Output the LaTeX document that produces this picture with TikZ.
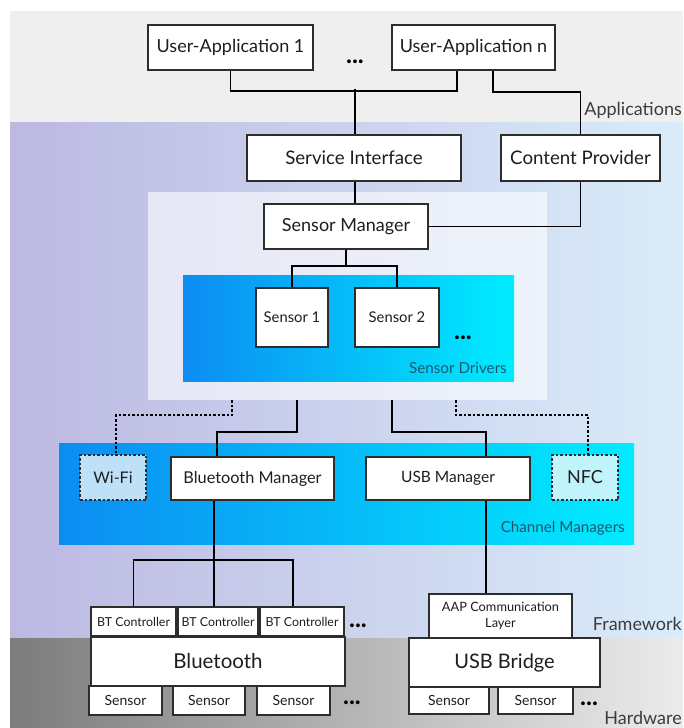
\documentclass[tikz,border=0pt]{standalone}
\usepackage{fontspec}
\setmainfont{Lato}
\usetikzlibrary{calc}
\definecolor{appbg}{RGB}{239,239,239}
\definecolor{fwL}{RGB}{188,184,226}
\definecolor{fwR}{RGB}{218,236,249}
\definecolor{hwL}{RGB}{124,124,124}
\definecolor{hwR}{RGB}{236,236,236}
\definecolor{bluL}{RGB}{12,140,242}
\definecolor{bluR}{RGB}{0,236,255}
\definecolor{boxline}{RGB}{45,45,45}
\definecolor{txt}{RGB}{30,30,30}
\definecolor{lbl}{RGB}{60,60,60}
\definecolor{panlbl}{RGB}{30,85,110}
\definecolor{wifif}{RGB}{190,225,248}
\definecolor{nfcf}{RGB}{192,244,250}
\newcommand\fsz[1]{\fontsize{#1}{#1}\selectfont}
\begin{document}
\begin{tikzpicture}[x=1pt,y=-1pt,
  box/.style={draw=boxline, fill=white, line width=1.3pt, inner sep=0pt, align=center, text=txt},
  dbox/.style={box, dash pattern=on 2.5pt off 2pt},
  conn/.style={draw=black, line width=1.9pt},
  dconn/.style={draw=black, line width=1.9pt, dash pattern=on 2.5pt off 2pt},
  dots/.style={font=\fsz{25}\bfseries, text=black, inner sep=0pt},
  layerlbl/.style={anchor=east, inner sep=0pt, text=lbl, font=\fsz{18}},
  panlabel/.style={anchor=east, inner sep=0pt, text=panlbl, font=\fsz{15.2}}
]
\useasboundingbox (0,0) rectangle (683,728);
% background bands
\fill[white] (0,0) rectangle (683,728);
\fill[appbg] (10,11) rectangle (683,122);
\shade[left color=fwL, right color=fwR] (10,122) rectangle (683,638);
\shade[left color=hwL, right color=hwR] (10,638) rectangle (683,728);

% layer labels
\node[layerlbl] (lapp) at (682,110) {Applications};
\node[layerlbl] (lfw) at (682,624) {Framework};
\node[layerlbl] (lhw) at (682,718) {Hardware};

% panels
\node[fill=white, fill opacity=0.6, minimum width=399, minimum height=208, inner sep=0pt] (lp) at (347.5,296) {};
\shade[left color=bluL, right color=bluR] (183,275) rectangle (514,381);
\node[panlabel] (lsd) at (507,368) {Sensor Drivers};
\shade[left color=bluL, right color=bluR] (59,443) rectangle (634,544);
\node[panlabel] (lcm) at (625,528) {Channel Managers};

% application boxes
\node[box, font=\fsz{18}, minimum width=165, minimum height=45] (ua1) at (230.5,47.5) {User-Application 1};
\node[box, font=\fsz{18}, minimum width=163, minimum height=45] (uan) at (473.5,47.5) {User-Application n};
\node[dots] (d0) at (355,62) {...};

\node[box, font=\fsz{18.7}, minimum width=214, minimum height=46] (si) at (354,158) {Service Interface};
\node[box, font=\fsz{18.7}, minimum width=159, minimum height=46] (cp) at (580.5,158) {Content Provider};
\node[box, font=\fsz{18}, minimum width=164, minimum height=45] (sm) at (346,226.5) {Sensor Manager};

\node[box, font=\fsz{14.8}, minimum width=72, minimum height=59] (s1) at (292,317.5) {Sensor 1};
\node[box, font=\fsz{14.8}, minimum width=84, minimum height=59] (s2) at (397,317.5) {Sensor 2};
\node[dots] (d1) at (463,338) {...};

% channel managers
\node[dbox, font=\fsz{16}, fill=wifif, minimum width=66, minimum height=45] (wifi) at (113,477.5) {Wi-Fi};
\node[box, font=\fsz{16.3}, minimum width=163, minimum height=43] (btm) at (252.5,478.5) {Bluetooth Manager};
\node[box, font=\fsz{15.5}, minimum width=164, minimum height=43] (usbm) at (448,478.5) {USB Manager};
\node[dbox, font=\fsz{18}, fill=nfcf, minimum width=66, minimum height=45] (nfc) at (585,477.5) {NFC};

% bluetooth stack
\node[box, font=\fsz{12.4}, minimum width=85, minimum height=29] (btc1) at (133.5,621.5) {BT Controller};
\node[box, font=\fsz{12.4}, minimum width=80, minimum height=29] (btc2) at (218,621.5) {BT Controller};
\node[box, font=\fsz{12.4}, minimum width=84, minimum height=29] (btc3) at (302,621.5) {BT Controller};
\node[dots] (d2) at (358,626) {...};
\node[box, font=\fsz{20.5}, minimum width=254, minimum height=49] (bt) at (218,661.5) {Bluetooth};
\node[box, font=\fsz{14}, minimum width=73, minimum height=29] (bs1) at (125.5,700.5) {Sensor};
\node[box, font=\fsz{14}, minimum width=72, minimum height=29] (bs2) at (209,700.5) {Sensor};
\node[box, font=\fsz{14}, minimum width=73, minimum height=29] (bs3) at (293.5,700.5) {Sensor};
\node[dots] (d3) at (352,703) {...};

% usb stack
\node[box, font=\fsz{12.8}, minimum width=143, minimum height=44] (aap) at (500.5,616) {AAP Communication\\[3pt]Layer};
\node[box, font=\fsz{20}, minimum width=191, minimum height=49] (usbb) at (504.5,662.5) {USB Bridge};
\node[box, font=\fsz{14}, minimum width=80, minimum height=27] (us1) at (449,700.5) {Sensor};
\node[box, font=\fsz{14}, minimum width=75, minimum height=27] (us2) at (535.5,700.5) {Sensor};
\node[dots] (d4) at (589,704) {...};

% connectors
\draw[conn] (ua1.south) -- ++(0,20) -| ([xshift=-16.5pt]uan.south);
\draw[conn] ([xshift=1pt]si.north) -- ++(0,-45);
\draw[conn] ([xshift=19.5pt]uan.south) -- ++(0,21) -| (cp.north);
\draw[conn] (cp.south) |- (sm.east);
\draw[conn] ([xshift=1pt]si.south) -- ([xshift=9pt]sm.north);
\draw[conn] (sm.south) -- ++(0,16) coordinate (sj);
\draw[conn] (s1.north) |- (sj) -| (s2.north);

\draw[dconn] ([xshift=-115.5pt]lp.south) -- ++(0,15) -| ([xshift=3pt]wifi.north);
\draw[conn] ([xshift=-50.5pt]lp.south) -- ++(0,32) -| ([xshift=-35.5pt]btm.north);
\draw[conn] ([xshift=44.5pt]lp.south) -- ++(0,32) -| ([xshift=38pt]usbm.north);
\draw[dconn] ([xshift=108.5pt]lp.south) -- ++(0,15) -| ([xshift=3pt]nfc.north);

\draw[conn] ([xshift=-38.5pt]btm.south) -- ([xshift=-4pt]btc2.north);
\draw[conn] (btc1.north) -- ++(0,-46) -| ([xshift=-9pt]btc3.north);
\draw[conn] ([xshift=38pt]usbm.south) -- ([xshift=-14.5pt]aap.north);
\end{tikzpicture}
\end{document}
